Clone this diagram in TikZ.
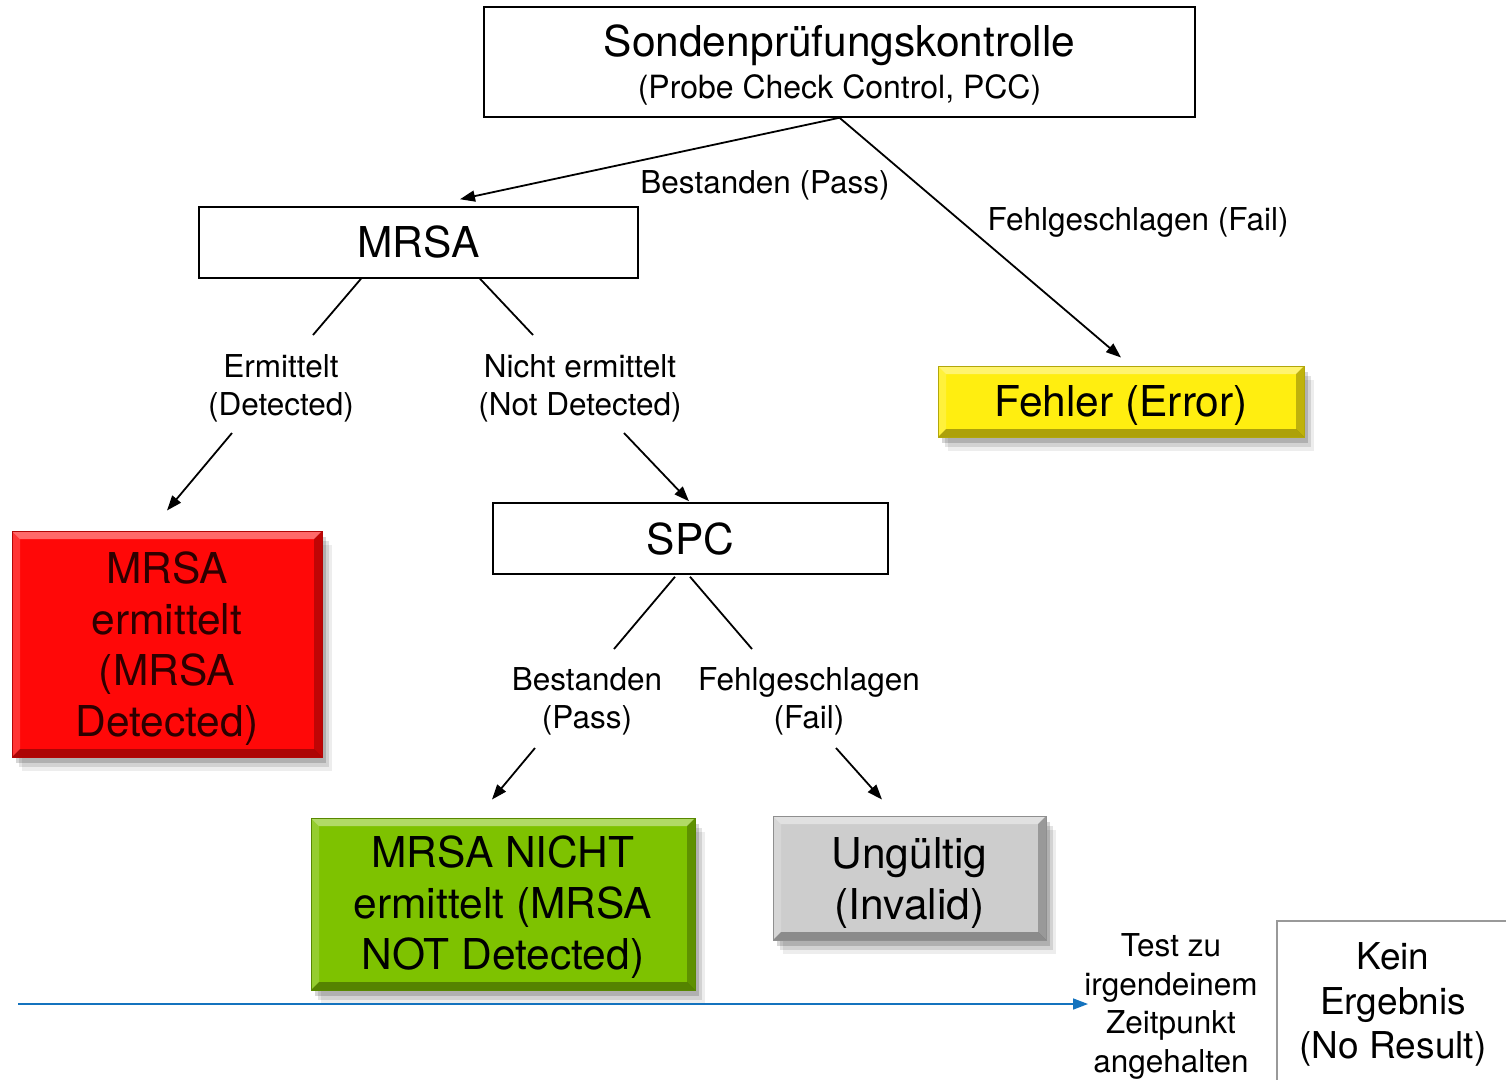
\documentclass[tikz,border=0pt]{standalone}
\usepackage{fontspec}
\setmainfont{TeX Gyre Heros}
\usetikzlibrary{arrows.meta,shadows,calc}
\newcommand\fbig{\fontsize{42.5}{51}\selectfont}
\newcommand\fmid{\fontsize{31.5}{38.5}\selectfont}
\newcommand\fkein{\fontsize{37}{44.5}\selectfont}
\definecolor{myred}{RGB}{255,8,8}
\definecolor{mygreen}{RGB}{126,194,0}
\definecolor{myyellow}{RGB}{255,238,16}
\definecolor{mygray}{RGB}{205,205,205}
\definecolor{myblue}{RGB}{20,115,190}
\definecolor{redtext}{RGB}{45,0,0}
\tikzset{
  plainbox/.style={draw=black, line width=1.5pt, fill=white, inner sep=0pt, align=center, font=\fbig},
  lbl/.style={inner sep=0pt, align=center, font=\fmid, text depth=0pt},
  conn/.style={line width=1.8pt, draw=black},
  arr/.style={conn, -{Triangle[length=15pt,width=11pt]}},
  softshadow/.style={
    drop shadow={shadow xshift=4pt, shadow yshift=-6pt, fill=black, opacity=.16},
    drop shadow={shadow xshift=7pt, shadow yshift=-10pt, fill=black, opacity=.11},
    drop shadow={shadow xshift=10pt, shadow yshift=-14pt, fill=black, opacity=.07}},
  bevel/.style={path picture={
    \fill[white,opacity=.40] (path picture bounding box.north west) -- (path picture bounding box.north east)
       -- ++(-8pt,-8pt) -| ($(path picture bounding box.north west)+(8pt,-8pt)$) -- cycle;
    \fill[white,opacity=.18] (path picture bounding box.north west) -- ++(8pt,-8pt)
       |- ($(path picture bounding box.south west)+(8pt,8pt)$) -- (path picture bounding box.south west) -- cycle;
    \fill[black,opacity=.25] (path picture bounding box.north east) -- ++(-8pt,-8pt)
       |- ($(path picture bounding box.south east)+(-8pt,8pt)$) -- (path picture bounding box.south east) -- cycle;
    \fill[black,opacity=.32] (path picture bounding box.south west) -- (path picture bounding box.south east)
       -- ++(-8pt,8pt) -| ($(path picture bounding box.south west)+(8pt,8pt)$) -- cycle;
  }},
  colbox/.style={fill=#1, draw=#1!70!black, line width=1pt, inner sep=0pt, align=center, font=\fbig, softshadow, bevel}
}
\begin{document}
\begin{tikzpicture}[x=1pt,y=1pt]
\useasboundingbox (0,0) rectangle (1506,-1079);
\fill[white] (0,0) rectangle (1506,-1079);

% boxes
\node[plainbox, minimum width=711pt, minimum height=110pt, text depth=-4pt] (pcc) at (839.5,-62)
  {Sondenprüfungskontrolle\\[-9pt]{\fontsize{32}{38}\selectfont (Probe Check Control, PCC)}};
\node[plainbox, minimum width=439pt, minimum height=71pt] (mrsa) at (418.5,-242.5) {MRSA};
\node[plainbox, minimum width=395pt, minimum height=71pt] (spc) at (690.5,-538.5) {SPC};
\node[colbox=myyellow, minimum width=366pt, minimum height=71pt, text depth=-1pt] (err) at (1121,-401.5) {Fehler (Error)};
\node[colbox=myred, minimum width=310pt, minimum height=226pt, text=redtext, text depth=0pt] (red) at (167,-644)
  {MRSA\\ermittelt\\(MRSA\\Detected)};
\node[colbox=mygreen, minimum width=384pt, minimum height=172pt, text depth=3pt] (green) at (503,-904)
  {MRSA NICHT\\ermittelt (MRSA\\NOT Detected)};
\node[colbox=mygray, minimum width=273pt, minimum height=124pt, text depth=-5pt] (gray) at (909.5,-878)
  {Ungültig\\(Invalid)};
\node[draw=black!40, line width=2pt, fill=white, inner sep=0pt, align=center, font=\fkein,
      minimum width=232pt, minimum height=162pt, text depth=3pt] (kein) at (1393,-1002)
  {Kein\\Ergebnis\\(No Result)};

% labels
\node[lbl] (ptop) at (765,-182) {Bestanden (Pass)};
\node[lbl] (ftop) at (1138,-219) {Fehlgeschlagen (Fail)};
\node[lbl] (det) at (281,-385) {Ermittelt\\(Detected)};
\node[lbl] (ndet) at (580,-385) {Nicht ermittelt\\(Not Detected)};
\node[lbl] (pass) at (587,-698) {Bestanden\\(Pass)};
\node[lbl] (fail) at (809,-698) {Fehlgeschlagen\\(Fail)};
\node[lbl] (test) at (1171,-1003) {Test zu\\irgendeinem\\Zeitpunkt\\angehalten};

% connectors
\draw[arr] (pcc.south) -- ([shift={(41.5,7)}]mrsa.north);
\draw[arr] (pcc.south) -- ([yshift=8]err.north);
\draw[conn] ([xshift=-57.5]mrsa.south) -- ([shift={(32,50)}]det.center);
\draw[conn] ([xshift=61.5]mrsa.south) -- ([shift={(-47,50)}]ndet.center);
\draw[arr] ([shift={(-49,-48)}]det.center) -- ([yshift=20]red.north);
\draw[arr] ([shift={(44,-48)}]ndet.center) -- ([shift={(-1.5,1)}]spc.north);
\draw[conn] ([shift={(-15.5,-2)}]spc.south) -- ([shift={(27,49)}]pass.center);
\draw[conn] ([shift={(-0.5,-2)}]spc.south) -- ([shift={(-57,49)}]fail.center);
\draw[arr] ([shift={(-52,-50)}]pass.center) -- ([shift={(-11,18)}]green.north);
\draw[arr] ([shift={(27,-50)}]fail.center) -- ([shift={(-27.5,16)}]gray.north);
\coordinate (bstart) at (18,-1004);
\draw[line width=1.6pt, myblue, -{Triangle[length=15pt,width=11pt]}] (bstart) -- ([shift={(-83,-1)}]test.center);
\end{tikzpicture}
\end{document}
